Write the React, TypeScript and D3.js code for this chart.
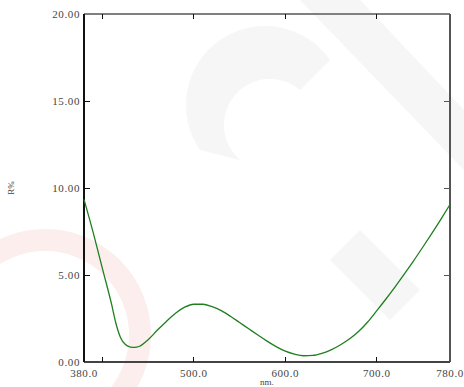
import React, { useEffect, useRef } from "react";
import * as d3 from "d3";

const wavelengths = [
  380, 390, 400, 410, 415, 420, 425, 430, 435, 440, 450, 460, 470, 480, 490,
  500, 510, 520, 530, 540, 550, 560, 570, 580, 590, 600, 610, 620, 630, 640,
  650, 660, 670, 680, 690, 700, 710, 720, 730, 740, 750, 760, 770, 780,
];
const reflectance = [
  9.35, 7.45, 5.4, 3.35, 2.2, 1.4, 1.02, 0.87, 0.84, 0.89, 1.28, 1.82, 2.33,
  2.8, 3.15, 3.32, 3.32, 3.18, 2.95, 2.63, 2.27, 1.91, 1.55, 1.2, 0.88, 0.62,
  0.45, 0.36, 0.38, 0.5, 0.7, 0.98, 1.32, 1.75, 2.3, 2.95, 3.62, 4.32, 5.05,
  5.8, 6.58, 7.38, 8.2, 9.05,
];
const xTickValues = [400, 500, 600, 700];
const xLabelValues = [380, 500, 600, 700, 780];
const yTickValues = [5, 10, 15];
const yLabelValues = [0, 5, 10, 15, 20];

const W = 464;
const H = 387;

export default function App() {
  const svgRef = useRef<SVGSVGElement>(null);

  useEffect(() => {
    document.body.style.margin = "0";
    const svg = d3.select(svgRef.current);
    svg.selectAll("*").remove();

    const left = 84;
    const right = 450;
    const top = 14;
    const bottom = 362;

    const x = d3.scaleLinear().domain([380, 780]).range([left, right]);
    const y = d3.scaleLinear().domain([0, 20]).range([bottom, top]);

    // faint watermark shapes
    const wm = svg.append("g");
    wm.append("circle")
      .attr("cx", 45)
      .attr("cy", 335)
      .attr("r", 95)
      .attr("fill", "none")
      .attr("stroke", "#fdeeee")
      .attr("stroke-width", 22);
    wm.append("path")
      .attr("d", "M300,0 L360,0 L464,110 L464,170 Z")
      .attr("fill", "#f6f6f6");
    wm.append("path")
      .attr("d", "M200,150 A70,70 0 0 1 330,60 L300,90 A40,40 0 0 0 240,160 Z")
      .attr("fill", "#f6f6f6");
    wm.append("path")
      .attr("d", "M330,260 L360,230 L420,290 L390,320 Z")
      .attr("fill", "#f6f6f6");

    // frame
    const frame = svg.append("g").attr("shape-rendering", "crispEdges");
    frame.append("line").attr("x1", left).attr("x2", right).attr("y1", top).attr("y2", top)
      .attr("stroke", "#808080").attr("stroke-width", 2);
    frame.append("line").attr("x1", right).attr("x2", right).attr("y1", top).attr("y2", bottom)
      .attr("stroke", "#555").attr("stroke-width", 1.5);
    frame.append("line").attr("x1", left).attr("x2", right).attr("y1", bottom).attr("y2", bottom)
      .attr("stroke", "#444").attr("stroke-width", 1.5);
    frame.append("line").attr("x1", left).attr("x2", left).attr("y1", top).attr("y2", bottom)
      .attr("stroke", "#111").attr("stroke-width", 1.5);

    xTickValues.forEach((v) => {
      frame.append("line").attr("x1", x(v)).attr("x2", x(v)).attr("y1", bottom).attr("y2", bottom - 5)
        .attr("stroke", "#111");
      frame.append("line").attr("x1", x(v)).attr("x2", x(v)).attr("y1", top).attr("y2", top + 5)
        .attr("stroke", "#111");
    });
    yTickValues.forEach((v) => {
      frame.append("line").attr("x1", left).attr("x2", left + 6).attr("y1", y(v)).attr("y2", y(v))
        .attr("stroke", "#111");
      frame.append("line").attr("x1", right).attr("x2", right - 6).attr("y1", y(v)).attr("y2", y(v))
        .attr("stroke", "#555");
    });

    const font = "Liberation Serif";

    svg.selectAll(".ylab")
      .data(yLabelValues)
      .enter()
      .append("text")
      .attr("x", left - 4)
      .attr("y", (d) => y(d) + 4)
      .attr("text-anchor", "end")
      .attr("font-family", font)
      .attr("font-size", 11)
      .attr("letter-spacing", 0.6)
      .attr("fill", "#444")
      .text((d) => d.toFixed(2));

    svg.selectAll(".xlab")
      .data(xLabelValues)
      .enter()
      .append("text")
      .attr("x", (d) => x(d))
      .attr("y", bottom + 15)
      .attr("text-anchor", "middle")
      .attr("font-family", font)
      .attr("font-size", 11)
      .attr("letter-spacing", 0.6)
      .attr("fill", "#444")
      .text((d) => d.toFixed(1));

    svg.append("text")
      .attr("x", (left + right) / 2)
      .attr("y", 385)
      .attr("text-anchor", "middle")
      .attr("font-family", font)
      .attr("font-size", 9)
      .attr("fill", "#444")
      .text("nm.");

    svg.append("text")
      .attr("transform", `translate(14,${(top + bottom) / 2}) rotate(-90)`)
      .attr("text-anchor", "middle")
      .attr("font-family", font)
      .attr("font-size", 9)
      .attr("fill", "#444")
      .text("R%");

    const pts: [number, number][] = wavelengths.map((w, i) => [w, reflectance[i]]);
    const line = d3
      .line<[number, number]>()
      .x((d) => x(d[0]))
      .y((d) => y(d[1]))
      .curve(d3.curveMonotoneX);

    svg.append("path")
      .datum(pts)
      .attr("d", line)
      .attr("fill", "none")
      .attr("stroke", "#1f7f1f")
      .attr("stroke-width", 1.3);
  }, []);

  return <svg ref={svgRef} width={W} height={H} style={{ display: "block" }} />;
}
